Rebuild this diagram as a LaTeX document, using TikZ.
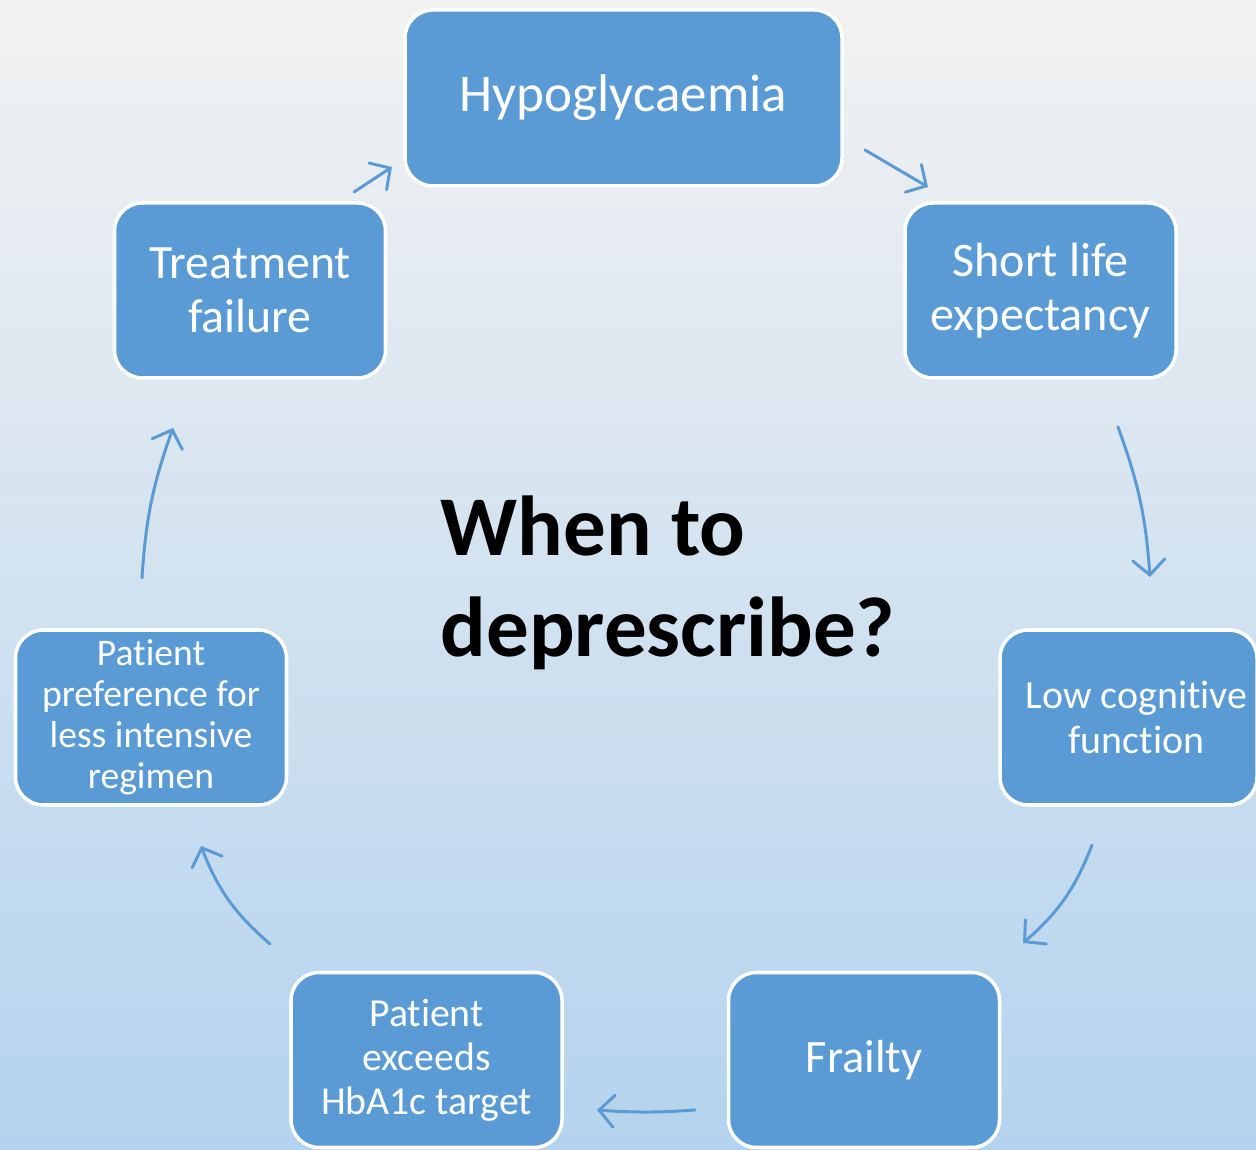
\documentclass[tikz,border=0pt]{standalone}
\usepackage{fontspec}
\setmainfont{Carlito}[Ligatures=NoCommon]
\usetikzlibrary{arrows.meta}
\definecolor{boxblue}{HTML}{5B9BD5}
\definecolor{bgtop}{HTML}{F2F2F2}
\definecolor{bgbottom}{HTML}{B4D3EE}

\begin{document}
\begin{tikzpicture}[
    cyclebox/.style={draw=white, line width=1pt, fill=boxblue, rounded corners=0.28cm,
        text=white, align=center, minimum width=2.71cm, minimum height=1.75cm, inner sep=0pt},
    cyclearrow/.style={draw=boxblue, line width=0.85pt, line cap=round,
        -{Straight Barb[length=1.5mm, width=3.2mm, line cap=round]}}
]
    % background
    \shade[top color=bgtop, bottom color=bgbottom] (0,0) rectangle (12.56,11.49);
    \useasboundingbox (0,0) rectangle (12.56,11.49);

    % the cycle
    \node[cyclebox, minimum width=4.37cm, minimum height=1.76cm, font=\fontsize{15.1}{18}\selectfont] (hypo) at (6.235,10.51) {Hypoglycaemia};
    \node[cyclebox, font=\fontsize{13.7}{15.2}\selectfont] (short) at (10.405,8.585) {Short life\\expectancy};
    \node[cyclebox, minimum width=2.57cm, font=\fontsize{11.35}{12.8}\selectfont] (lowcog) at (11.285,4.315) {\hspace*{0.16cm}Low cognitive\\\hspace*{0.16cm}function};
    \node[cyclebox, font=\fontsize{13.2}{16}\selectfont] (frailty) at (8.64,0.89) {Frailty};
    \node[cyclebox, font=\fontsize{11.3}{12.5}\selectfont] (exceeds) at (4.265,0.89) {Patient\\exceeds\\HbA1c target};
    \node[cyclebox, font=\fontsize{10.7}{11.7}\selectfont] (pref) at (1.51,4.315) {Patient\\preference for\\less intensive\\regimen};
    \node[cyclebox, font=\fontsize{13.6}{15.2}\selectfont] (treat) at (2.50,8.585) {Treatment\\failure};

    \node[font=\fontsize{24.2}{29}\selectfont\bfseries, align=left, anchor=base west, inner sep=0pt] (question) at (4.40,4.92) {When to\\deprescribe?};

    % arrow ends
    \coordinate (treat-out) at (3.54,9.57);
    \coordinate (hypo-in) at (3.92,9.82);
    \coordinate (hypo-out) at (8.65,9.99);
    \coordinate (short-in) at (9.28,9.62);
    \coordinate (short-out) at (11.18,7.22);
    \coordinate (lowcog-in) at (11.50,5.72);
    \coordinate (lowcog-out) at (10.92,3.04);
    \coordinate (frailty-in) at (10.23,2.06);
    \coordinate (frailty-out) at (6.95,0.39);
    \coordinate (exceeds-in) at (5.97,0.39);
    \coordinate (exceeds-out) at (2.70,2.05);
    \coordinate (pref-in) at (2.01,3.03);
    \coordinate (pref-out) at (1.42,5.71);
    \coordinate (treat-in) at (1.73,7.21);

    \draw[cyclearrow] (treat-out) -- (hypo-in);
    \draw[cyclearrow] (hypo-out) -- (short-in);
    \draw[cyclearrow] (short-out) to[bend left=8] (lowcog-in);
    \draw[cyclearrow] (lowcog-out) to[bend left=14] (frailty-in);
    \draw[cyclearrow] (frailty-out) to[bend left=4] (exceeds-in);
    \draw[cyclearrow] (exceeds-out) to[bend left=14] (pref-in);
    \draw[cyclearrow] (pref-out) to[bend left=8] (treat-in);
\end{tikzpicture}
\end{document}
